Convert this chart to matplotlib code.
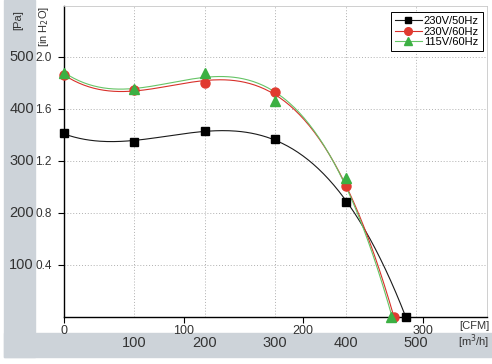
import matplotlib
matplotlib.use("Agg")
import matplotlib.pyplot as plt
import matplotlib.transforms as mtransforms
from matplotlib.patches import Rectangle
import numpy as np

plt.rcParams['font.family'] = ['Liberation Sans', 'DejaVu Sans']

# measured points, x in m3/h, y in Pa
x_black = [0, 100, 200, 300, 400, 486]
y_black = [353, 337, 358, 343, 221, 0]
x_red = [0, 100, 200, 300, 400, 469]
y_red = [465, 437, 450, 432, 252, 0]
x_green = [0, 100, 200, 300, 400, 465]
y_green = [470, 438, 470, 416, 267, 0]

labels = ["230V/50Hz", "230V/60Hz", "115V/60Hz"]
pa_ticks = [100, 200, 300, 400, 500]
inh2o_labels = ["0.4", "0.8", "1.2", "1.6", "2.0"]
m3h_ticks = [100, 200, 300, 400, 500]
cfm_ticks = [0, 100, 200, 300]
CFM = 1.699  # m3/h per CFM

W, H = 492, 364
fig = plt.figure(figsize=(W / 100, H / 100), dpi=100)
fig.patch.set_facecolor("white")

# gray frame behind the axes
gray = "#cdd3d9"
fig.patches.append(Rectangle((4 / W, (H - 357) / H), 31 / W, 357 / H,
                             transform=fig.transFigure, color=gray, zorder=-5))
fig.patches.append(Rectangle((4 / W, (H - 357) / H), 488 / W, 24 / H,
                             transform=fig.transFigure, color=gray, zorder=-5))

ax = fig.add_axes([64 / W, (H - 317) / H, 423 / W, 311 / H])
ax.set_xlim(0, 601)
ax.set_ylim(0, 598)

series = [
    (x_black, y_black, "#1a1a1a", "s", 6, "black"),
    (x_red, y_red, "#d8302a", "o", 6.5, "#e03a30"),
    (x_green, y_green, "#66c466", "^", 7, "#3cb043"),
]
for (xs, ys, lc, mk, ms, mc), lab in zip(series, labels):
    xs = np.array(xs, float)
    ys = np.array(ys, float)
    p = np.polyfit(xs, ys, 3)
    xf = np.linspace(0, xs[-1], 200)
    yf = np.polyval(p, xf)
    ax.plot(xf, yf, color=lc, lw=0.8, zorder=3)
    ax.plot(xs, ys, ls="none", marker=mk, ms=ms, color=mc, mec=mc,
            zorder=4, clip_on=False)
    ax.plot([], [], color=lc, lw=0.8, marker=mk, ms=ms - 1, mfc=mc, mec=mc,
            label=lab)

# grid
for v in pa_ticks:
    ax.axhline(v, color="#b0b0b0", lw=0.7, ls=(0, (1, 2)), zorder=1)
for v in m3h_ticks:
    ax.axvline(v, color="#b0b0b0", lw=0.7, ls=(0, (1, 2)), zorder=1)

# spines
for s in ["top", "right"]:
    ax.spines[s].set_color("#c8c8c8")
    ax.spines[s].set_linewidth(0.6)
for s in ["left", "bottom"]:
    ax.spines[s].set_color("black")
    ax.spines[s].set_linewidth(1.0)

# y ticks: in H2O labels
ax.set_yticks(pa_ticks)
ax.set_yticklabels(inh2o_labels, fontsize=8.5, color="#333333")
ax.tick_params(axis="y", length=4, width=0.8, pad=5, direction="out")

# x ticks: CFM
ax.set_xticks([c * CFM for c in cfm_ticks])
ax.set_xticklabels([str(c) for c in cfm_ticks], fontsize=9, color="#333333")
ax.tick_params(axis="x", length=4, width=0.8, pad=1.5, direction="out")

# Pa labels in the gray strip
tr_y = mtransforms.blended_transform_factory(fig.transFigure, ax.transData)
for v in pa_ticks:
    ax.text(34 / W, v, str(v), transform=tr_y, ha="right", va="center",
            fontsize=10.5, color="#333333")

# m3/h labels in the bottom strip
tr_x = mtransforms.blended_transform_factory(ax.transData, fig.transFigure)
for v in m3h_ticks:
    ax.text(v, (H - 343) / H, str(v), transform=tr_x, ha="center",
            va="center", fontsize=10.5, color="#333333", clip_on=False)

fig.text(489 / W, (H - 326) / H, "[CFM]", ha="right", va="center",
         fontsize=8, color="#333333")
fig.text(489 / W, (H - 342) / H, "[m$^3$/h]", ha="right", va="center",
         fontsize=8, color="#333333")
fig.text(18 / W, (H - 20) / H, "[Pa]", rotation=90, ha="center",
         va="center", fontsize=8, color="#333333")
fig.text(44 / W, (H - 26) / H, "[in H$_2$O]", rotation=90, ha="center",
         va="center", fontsize=8, color="#333333")

leg = ax.legend(loc="upper right", bbox_to_anchor=(0.99, 0.98),
                borderaxespad=0, fontsize=8, frameon=True, fancybox=False,
                framealpha=1, edgecolor="black", labelspacing=0.05,
                handlelength=2.4, handletextpad=0.2, borderpad=0.35)
leg.get_frame().set_linewidth(0.7)

fig.savefig("out.png", dpi=100)
